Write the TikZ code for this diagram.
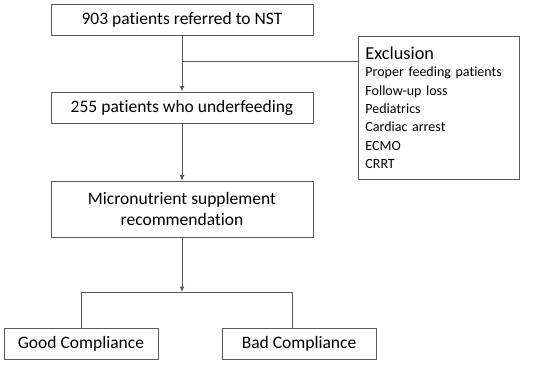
\documentclass[tikz,border=0pt]{standalone}
\usepackage{fontspec}
\setmainfont{Carlito}[Ligatures={NoCommon}]
\usetikzlibrary{arrows.meta}
\begin{document}
\begin{tikzpicture}[x=1pt,y=1pt,
  box/.style={draw=black!65, line width=0.9pt, inner sep=0pt, align=center, font=\fontsize{17.5}{21}\selectfont},
  conn/.style={draw=black!65, line width=0.9pt},
  arr/.style={conn, -{Latex[length=5.5pt,width=5pt]}}]
\useasboundingbox (0,0) rectangle (550,365);
\node[box, minimum width=262, minimum height=31] (n1) at (182,345) {903 patients referred to NST};
\node[box, minimum width=262, minimum height=31] (n2) at (182,257.5) {255 patients who underfeeding};
\node[box, minimum width=262, minimum height=56] (n3) at (182,156) {Micronutrient supplement\\recommendation};
\node[box, minimum width=159, minimum height=143, align=left, anchor=north west, text width=147, inner xsep=7, inner ysep=0, font=\fontsize{14}{18.4}\selectfont] (ex) at (358,329)
  {{\fontsize{18.3}{21}\selectfont Exclusion}\\[-1.5pt]Proper feeding patients\\Follow-up loss\\Pediatrics\\Cardiac arrest\\ECMO\\CRRT};
\node[box, minimum width=154, minimum height=31] (good) at (81,21.5) {Good Compliance};
\node[box, minimum width=154, minimum height=31] (bad) at (299,21.5) {Bad Compliance};
\coordinate (j1) at (182,304);
\coordinate (j2) at (182,73);
\coordinate (jl) at (81,73);
\coordinate (jr) at (292,73);
\draw[arr] (n1.south) -- (n2.north);
\draw[conn] (j1) -- (j1 -| ex.west);
\draw[arr] (n2.south) -- (n3.north);
\draw[arr] (n3.south) -- (j2);
\draw[conn] (jl |- good.north) -- (jl) -- (jr) -- (jr |- bad.north);
\end{tikzpicture}
\end{document}
